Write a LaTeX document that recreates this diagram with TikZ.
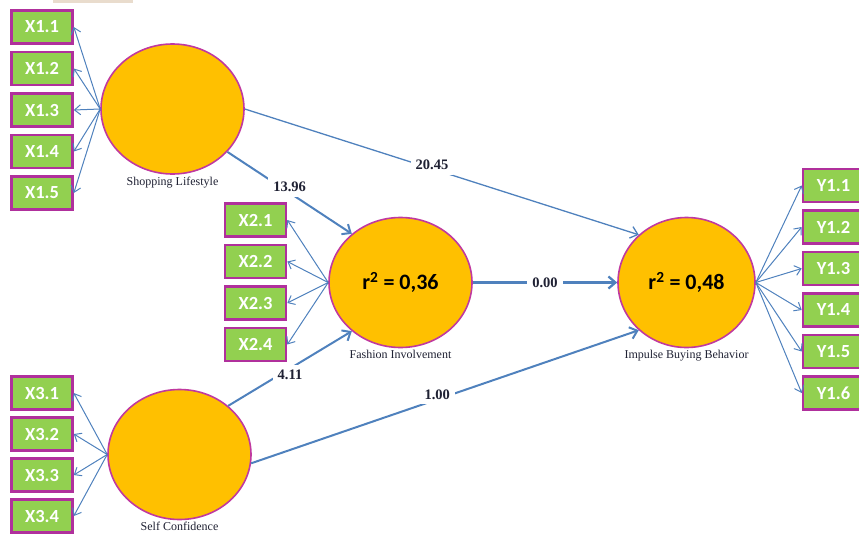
\documentclass[tikz,border=0pt]{standalone}
\usepackage{fontspec}
\setmainfont{Liberation Serif}
\newfontfamily\boxfont{Carlito}
\usetikzlibrary{shapes.geometric}
\usetikzlibrary{arrows.meta}
\usetikzlibrary{positioning}
\definecolor{lvfill}{HTML}{FFC000}
\definecolor{lvline}{HTML}{C0399F}
\definecolor{mvfill}{HTML}{92D050}
\definecolor{mvline}{HTML}{B0309C}
\definecolor{arrowblue}{HTML}{4F81BD}
\definecolor{coeftext}{HTML}{1F2133}
\definecolor{tanstrip}{HTML}{E9DCCD}

\begin{document}
\begin{tikzpicture}[x=1pt,y=-1pt,
	latent/.style={ellipse, draw=lvline, line width=1.6pt, fill=lvfill, minimum width=143pt, minimum height=130pt, inner sep=0pt, font=\boxfont\bfseries\fontsize{22}{22}\selectfont},
	indicator/.style={rectangle, draw=mvline, line width=2.6pt, fill=mvfill, minimum width=61pt, minimum height=33pt, inner sep=0pt, text=white, font=\boxfont\bfseries\fontsize{18.5}{18.5}\selectfont},
	lvname/.style={inner sep=1pt, text=coeftext, font=\fontsize{12}{12}\selectfont},
	coef/.style={fill=white, inner sep=5pt, text=coeftext, font=\bfseries\fontsize{14.5}{14.5}\selectfont},
	loading/.style={draw=arrowblue, line width=1pt, -{Straight Barb[length=6pt,width=10pt]}},
	inner/.style={draw=arrowblue, line width=2pt, -{Straight Barb[length=7pt,width=12pt]}}]
	\path[use as bounding box, clip] (0,0) rectangle (859,538);
	\fill[tanstrip] (53,0) rectangle (133,3);

	% latent variables
	\node[latent] (sl) at (172.5,109) {};
	\node[latent] (fi) at (400.5,282.5) {r\textsuperscript{2} = 0,36};
	\node[latent, minimum width=137pt] (ib) at (686.5,282.5) {r\textsuperscript{2} = 0,48};
	\node[latent] (sc) at (179.5,454.5) {};
	\node[lvname, below=1pt of sl] (sllbl) {Shopping Lifestyle};
	\node[lvname, below=1pt of fi] (filbl) {Fashion Involvement};
	\node[lvname, below=1pt of ib] (iblbl) {Impulse Buying Behavior};
	\node[lvname, below=1pt of sc] (sclbl) {Self Confidence};

	% indicators
	\foreach \i/\y in {1/27,2/68.5,3/110,4/151.5,5/193}{
		\node[indicator] (x1\i) at (42,\y) {X1.\i};
		\draw[loading] (sl.west) -- (x1\i.east);
	}
	\foreach \i/\y in {1/220,2/261.5,3/303,4/344.5}{
		\node[indicator] (x2\i) at (255.5,\y) {X2.\i};
		\draw[loading] (fi.west) -- (x2\i.east);
	}
	\foreach \i/\y in {1/393,2/434,3/475,4/516}{
		\node[indicator] (x3\i) at (42,\y) {X3.\i};
		\draw[loading] (sc.west) -- (x3\i.east);
	}
	\foreach \i/\y in {1/185.5,2/227,3/268.5,4/310,5/351.5,6/393}{
		\node[indicator] (y1\i) at (833.5,\y) {Y1.\i};
		\draw[loading] (ib.east) -- (y1\i.west);
	}

	% path coefficients
	\draw[inner, line width=1.3pt] (sl.east) -- node[coef, pos=0.475, yshift=4pt] (c1) {20.45} (ib.135);
	\draw[inner] (sl.-38) -- node[coef, yshift=6pt] (c2) {13.96} (fi.135);
	\draw[inner] (sc.45) -- node[coef, yshift=-6pt] (c3) {4.11} (fi.225);
	\draw[inner] (sc.-7) -- node[coef, pos=0.48, yshift=5pt] (c4) {1.00} (ib.225);
	\draw[inner, line width=2.3pt] (fi.east) -- node[coef] (c5) {0.00} (ib.west);
\end{tikzpicture}
\end{document}
